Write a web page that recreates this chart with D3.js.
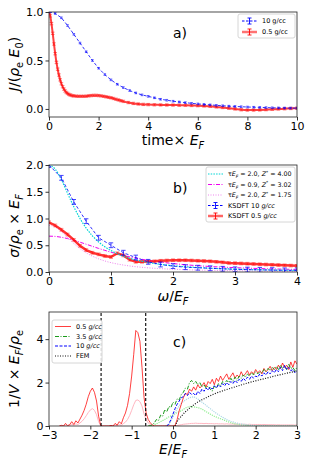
<!DOCTYPE html>
<html>
<head>
<meta charset="utf-8">
<script src="https://cdn.jsdelivr.net/npm/d3@7"></script>
<style>
  body { margin: 0; background: #fff; }
  svg { font-family: "DejaVu Sans", sans-serif; }
</style>
</head>
<body>
<svg id="chart" width="312" height="467"></svg>
<script>
// ---- a) current autocorrelation J(t)
const blueTimeStep = 0.25;
const blueJ = [1.0, 0.985, 0.94, 0.86, 0.77, 0.68, 0.59, 0.50, 0.42, 0.355, 0.30, 0.255, 0.22,
  0.19, 0.165, 0.145, 0.13, 0.115, 0.10, 0.09, 0.08, 0.072, 0.065, 0.058, 0.052, 0.047, 0.042,
  0.037, 0.033, 0.029, 0.026, 0.023, 0.02, 0.018, 0.016, 0.014, 0.012, 0.011, 0.01, 0.009, 0.008];
const redTime = [0, 0.05, 0.1, 0.15, 0.2, 0.25, 0.3, 0.35, 0.4, 0.45, 0.5, 0.55, 0.6, 0.65, 0.7,
  0.75, 0.8, 0.85, 0.9, 0.95, 1.0, 1.1, 1.2, 1.3, 1.4, 1.5, 1.6, 1.7, 1.8, 1.9, 2.0, 2.1, 2.2,
  2.3, 2.4, 2.5, 2.6, 2.7, 2.8, 2.9, 3.0, 3.2, 3.4, 3.6, 3.8, 4.0, 4.25, 4.5, 4.75, 5.0, 5.25,
  5.5, 5.75, 6.0, 6.25, 6.5, 6.75, 7.0, 7.25, 7.5, 7.75, 8.0, 8.25, 8.5, 8.75, 9.0, 9.25, 9.5,
  9.75, 10.0];
const redJ = [1.0, 0.96, 0.88, 0.78, 0.67, 0.57, 0.48, 0.41, 0.35, 0.30, 0.26, 0.23, 0.205, 0.185,
  0.17, 0.16, 0.15, 0.145, 0.14, 0.137, 0.135, 0.132, 0.13, 0.13, 0.13, 0.132, 0.135, 0.138,
  0.14, 0.14, 0.138, 0.135, 0.13, 0.125, 0.12, 0.115, 0.108, 0.1, 0.093, 0.085, 0.078, 0.066,
  0.057, 0.051, 0.047, 0.045, 0.043, 0.042, 0.041, 0.04, 0.039, 0.038, 0.036, 0.034, 0.031,
  0.027, 0.021, 0.015, 0.008, 0.0, -0.008, -0.012, -0.012, -0.01, -0.007, -0.004, -0.001,
  0.002, 0.005, 0.008];

// ---- b) conductivity
const omegaStepBlue = 0.2;
const sigmaBlue = [2.0, 1.76, 1.31, 0.95, 0.64, 0.5, 0.36, 0.27, 0.19, 0.14, 0.11, 0.09, 0.08,
  0.07, 0.06, 0.05, 0.045, 0.04, 0.035, 0.03, 0.03];
const omegaStepRed = 0.1;
const sigmaRed = [0.93, 0.87, 0.79, 0.70, 0.60, 0.49, 0.41, 0.36, 0.33, 0.30, 0.28, 0.35, 0.31,
  0.23, 0.19, 0.19, 0.195, 0.2, 0.21, 0.215, 0.22, 0.22, 0.22, 0.215, 0.21, 0.205, 0.2, 0.19,
  0.18, 0.17, 0.165, 0.16, 0.155, 0.15, 0.145, 0.14, 0.135, 0.13, 0.125, 0.12, 0.115];
const omegaModel = [0, 0.1, 0.2, 0.3, 0.4, 0.5, 0.6, 0.7, 0.8, 0.9, 1.0, 1.25, 1.5, 1.75, 2.0,
  2.5, 3.0, 3.5, 4.0];
const drudeCyan = [2.0, 1.923, 1.724, 1.47, 1.22, 1.0, 0.82, 0.676, 0.562, 0.472, 0.4, 0.276,
  0.2, 0.151, 0.118, 0.077, 0.054, 0.04, 0.031];
const drudeMagenta = [0.67, 0.665, 0.649, 0.624, 0.593, 0.557, 0.519, 0.48, 0.441, 0.405, 0.37,
  0.296, 0.237, 0.193, 0.158, 0.11, 0.081, 0.061, 0.048];
const drudeViolet = [0.875, 0.841, 0.754, 0.643, 0.534, 0.4375, 0.359, 0.296, 0.246, 0.206,
  0.175, 0.121, 0.0875, 0.066, 0.0515, 0.034, 0.0236, 0.0175, 0.0135];

// ---- c) density of states, sampled every dosStep from each start energy
const dosStep = 0.05;
const redStart = -2.75;
const dosRed = [
  0.0, 0.03, 0.0, 0.12, 0.02, 0.06, 0.2, 0.07, 0.24, 0.14, 0.32, 0.5, 0.72, 1.0, 1.35,
  1.6, 1.75, 1.55, 1.15, 0.45, 0.03, 0.0, 0.0, 0.0, 0.0, 0.03, 0.0, 0.12, 0.04, 0.2, 0.1, 0.38, 0.6, 0.95, 1.5,
  2.3, 3.3, 4.4, 4.3, 3.9, 2.7, 1.3, 0.6, 0.3, 0.15, 0.05, 0, 0, 0, 0, 0, 0, 0, 0, 0,
  0, 0.03, 0.3, 0.7, 1.0, 1.3, 1.5, 1.45, 1.7, 1.6, 1.8, 1.65, 1.9, 1.75, 1.85, 2.0, 1.8, 2.05, 1.95, 2.15,
  1.9, 2.2, 2.05, 2.3, 2.1, 2.25, 2.4, 2.15, 2.3, 2.45, 2.2, 2.35, 2.25, 2.5, 2.3, 2.4, 2.55, 2.35, 2.5, 2.4,
  2.6, 2.45, 2.55, 2.4, 2.65, 2.5, 2.6, 2.75, 2.55, 2.7, 2.6, 2.8, 2.65, 2.9, 2.7, 2.8, 2.6, 2.95, 2.7, 3.0, 2.85];
const dosRedPart = [
  0, 0.01, 0, 0.05, 0.01, 0.03, 0.08, 0.04, 0.1, 0.07, 0.14, 0.22, 0.33, 0.47, 0.62,
  0.74, 0.8, 0.72, 0.52, 0.2, 0.01, 0, 0, 0, 0, 0.01, 0, 0.04, 0.02, 0.06, 0.04, 0.11, 0.18, 0.3, 0.48,
  0.72, 0.98, 1.18, 1.2, 1.12, 0.92, 0.55, 0.3, 0.14, 0.07, 0.02, 0, 0, 0, 0, 0, 0, 0, 0, 0,
  0, 0, 0.02, 0.04, 0.06, 0.08, 0.09, 0.1, 0.11, 0.12, 0.12, 0.13, 0.12, 0.12, 0.12, 0.11, 0.12, 0.11, 0.11, 0.11,
  0.1, 0.11, 0.1, 0.1, 0.1, 0.09, 0.1, 0.09, 0.09, 0.09, 0.08, 0.09, 0.08, 0.08, 0.08, 0.08, 0.07, 0.08, 0.07, 0.07,
  0.07, 0.07, 0.07, 0.06, 0.07, 0.06, 0.06, 0.06, 0.06, 0.06, 0.05, 0.06, 0.05, 0.05, 0.05, 0.05, 0.05, 0.05, 0.05, 0.04, 0.05];
const greenStart = -0.6;
const dosGreen = [
  0.0, 0.02, 0.05, 0.15, 0.3, 0.25, 0.5, 0.45, 0.75, 0.65, 0.9, 0.85,
  1.1, 1.0, 1.25, 1.2, 1.45, 1.55, 1.75, 1.7, 2.0, 2.1, 1.95, 2.05, 1.9, 2.0, 1.8, 1.9, 1.75, 1.85, 1.7, 1.6,
  1.85, 1.75, 1.95, 1.85, 2.05, 1.95, 2.1, 2.0, 2.2, 2.05, 2.25, 2.1, 2.3, 2.2, 2.35, 2.25, 2.4, 2.3, 2.45, 2.35,
  2.5, 2.4, 2.5, 2.45, 2.6, 2.5, 2.65, 2.55, 2.7, 2.6, 2.75, 2.6, 2.8, 2.65, 2.75, 2.6, 2.85, 2.65, 2.7, 2.55, 2.7];
const blueStart = -0.15;
const dosBlue = [
  0.0, 0.1, 0.3,
  0.55, 0.8, 1.0, 1.15, 1.3, 1.35, 1.5, 1.4, 1.55, 1.45, 1.5, 1.4, 1.6, 1.5, 1.7, 1.6, 1.75, 1.65, 1.8, 1.7,
  1.85, 1.75, 1.9, 1.8, 1.95, 1.85, 2.0, 1.9, 2.05, 1.95, 2.1, 2.0, 2.15, 2.05, 2.2, 2.1, 2.25, 2.15, 2.3, 2.2,
  2.3, 2.25, 2.4, 2.3, 2.45, 2.35, 2.5, 2.4, 2.55, 2.45, 2.6, 2.5, 2.7, 2.55, 2.8, 2.6, 2.7, 2.55, 2.6, 2.45, 2.55];
// partial (bound-state projected) curves, every 0.1
const partStep = 0.1;
const greenPartStart = -0.6;
const dosGreenPart = [0, 0.02, 0.1, 0.2, 0.3, 0.42, 0.5, 0.62, 0.7, 0.83, 0.9, 0.88, 0.85, 0.78,
  0.66, 0.55, 0.45, 0.37, 0.3, 0.22, 0.15, 0.1, 0.07, 0.05, 0.03, 0.02, 0.01, 0.005, 0.005,
  0, 0, 0, 0, 0, 0, 0, 0];
const bluePartStart = -0.2;
const dosBluePart = [0, 0.05, 0.4, 0.8, 1.05, 1.2, 1.3, 1.35, 1.25, 1.1, 0.95, 0.8, 0.65, 0.52,
  0.4, 0.3, 0.22, 0.16, 0.11, 0.08, 0.05, 0.03, 0.02, 0.01, 0.01, 0, 0, 0, 0, 0, 0, 0, 0];
const femE = [0.05, 0.1, 0.2, 0.3, 0.4, 0.5, 0.6, 0.8, 1.0, 1.25, 1.5, 1.75, 2.0, 2.25, 2.5, 2.75, 3.0];
const femDos = [0, 0.2, 0.45, 0.65, 0.82, 0.97, 1.1, 1.3, 1.48, 1.65, 1.8, 1.95, 2.08, 2.2, 2.32, 2.43, 2.53];
const edgeLines = [-1.74, -0.66];

const svg = d3.select('#chart');
const left = 49, right = 297;

function styleAxis(ax) {
  ax.select('.domain').remove();
  ax.selectAll('.tick line').attr('stroke', '#000').attr('stroke-width', 0.8);
  ax.selectAll('.tick text').attr('fill', '#000').style('font-size', '11px')
    .style('font-family', '"DejaVu Sans", sans-serif');
}

function makePanel(top, bottom, xDomain, yDomain, xTicks, yTicks, yFmt) {
  const x = d3.scaleLinear().domain(xDomain).range([left, right]);
  const y = d3.scaleLinear().domain(yDomain).range([bottom, top]);
  const id = 'clip' + top;
  svg.append('clipPath').attr('id', id).append('rect')
    .attr('x', left).attr('y', top).attr('width', right - left).attr('height', bottom - top);
  const g = svg.append('g');
  const plot = g.append('g').attr('clip-path', `url(#${id})`);
  g.append('g').attr('transform', `translate(0,${bottom})`)
    .call(d3.axisBottom(x).tickValues(xTicks).tickFormat(d3.format('d')).tickSize(3.5).tickPadding(2))
    .call(styleAxis);
  g.append('g').attr('transform', `translate(${left},0)`)
    .call(d3.axisLeft(y).tickValues(yTicks).tickFormat(yFmt).tickSize(3.5).tickPadding(2))
    .call(styleAxis);
  g.append('rect').attr('x', left).attr('y', top).attr('width', right - left)
    .attr('height', bottom - top).attr('fill', 'none').attr('stroke', '#222').attr('stroke-width', 0.8);
  return { g, plot, x, y };
}

// text with italic / sub / super parts: [text, 'n'|'i'|'sub'|'isub'|'sup']
function richText(sel, parts, size) {
  let shift = 0;
  parts.forEach(([t, k]) => {
    const small = k === 'sub' || k === 'isub' || k === 'sup';
    const target = (k === 'sub' || k === 'isub') ? size * 0.3 : k === 'sup' ? -size * 0.4 : 0;
    sel.append('tspan').text(t)
      .attr('dy', target - shift)
      .style('font-size', (small ? size * 0.7 : size) + 'px')
      .style('font-style', (k === 'i' || k === 'isub') ? 'italic' : 'normal');
    shift = target;
  });
}

function seriesLine(plot, pts, x, y, style) {
  const line = d3.line().x(d => x(d[0])).y(d => y(d[1]));
  if (style.curve) line.curve(style.curve);
  plot.append('path').datum(pts).attr('d', line).attr('fill', 'none')
    .attr('stroke', style.color).attr('stroke-width', style.width || 1)
    .attr('stroke-dasharray', style.dash || null).attr('opacity', style.opacity || 1);
}

function errorBars(plot, pts, x, y, err, color, cap, opacity) {
  const eb = plot.append('g').attr('stroke', color).attr('stroke-width', 0.9).attr('opacity', opacity);
  pts.forEach(d => {
    const cx = x(d[0]), y0 = y(d[1] - err), y1 = y(d[1] + err);
    eb.append('line').attr('x1', cx).attr('x2', cx).attr('y1', y0).attr('y2', y1);
    eb.append('line').attr('x1', cx - cap).attr('x2', cx + cap).attr('y1', y0).attr('y2', y0);
    eb.append('line').attr('x1', cx - cap).attr('x2', cx + cap).attr('y1', y1).attr('y2', y1);
  });
}

function legendBox(x0, y0, w, h) {
  svg.append('rect').attr('x', x0).attr('y', y0).attr('width', w).attr('height', h)
    .attr('rx', 2).attr('fill', '#fff').attr('fill-opacity', 0.85)
    .attr('stroke', '#ccc').attr('stroke-width', 0.8);
}

function legendRow(x0, x1, yy, style, label, size, bar) {
  svg.append('line').attr('x1', x0).attr('x2', x1).attr('y1', yy).attr('y2', yy)
    .attr('stroke', style.color).attr('stroke-width', style.width || 1)
    .attr('stroke-dasharray', style.dash || null).attr('opacity', style.opacity || 1);
  if (bar) {
    const cx = (x0 + x1) / 2;
    const e = svg.append('g').attr('stroke', style.color).attr('stroke-width', 0.9);
    e.append('line').attr('x1', cx).attr('x2', cx).attr('y1', yy - bar).attr('y2', yy + bar);
    e.append('line').attr('x1', cx - 2).attr('x2', cx + 2).attr('y1', yy - bar).attr('y2', yy - bar);
    e.append('line').attr('x1', cx - 2).attr('x2', cx + 2).attr('y1', yy + bar).attr('y2', yy + bar);
  }
  const t = svg.append('text').attr('x', x1 + 5).attr('y', yy + size * 0.36).attr('fill', '#000');
  richText(t, label, size);
}

function panelTag(txt, yy) {
  svg.append('text').attr('x', 173).attr('y', yy).style('font-size', '14px').text(txt);
}

function xLabel(parts, yy) {
  const t = svg.append('text').attr('x', 173).attr('y', yy).attr('text-anchor', 'middle');
  richText(t, parts, 14);
}

function yLabel(parts, cy) {
  const t = svg.append('text').attr('text-anchor', 'middle')
    .attr('transform', `translate(19,${cy}) rotate(-90)`);
  richText(t, parts, 14);
}

// ---------------- panel a
{
  const p = makePanel(12, 117, [0, 10], [-0.083, 1.0], [0, 2, 4, 6, 8, 10], [0, 0.5, 1.0], d3.format('.1f'));
  const bluePts = blueJ.map((v, i) => [i * blueTimeStep, v]);
  const redPts = redTime.map((t, i) => [t, redJ[i]]);
  seriesLine(p.plot, redPts, p.x, p.y, { color: '#ff0000', width: 2, opacity: 0.75, curve: d3.curveMonotoneX });
  errorBars(p.plot, redPts, p.x, p.y, 0.012, '#ff0000', 1.8, 0.55);
  seriesLine(p.plot, bluePts, p.x, p.y, { color: '#0000ff', width: 1, dash: '3,2', opacity: 0.8 });
  errorBars(p.plot, bluePts, p.x, p.y, 0.008, '#0000ff', 1.3, 0.7);
  panelTag('a)', 38);
  xLabel([['time', 'n'], ['\u00d7 ', 'n'], ['E', 'i'], ['F', 'isub']], 145);
  yLabel([['J', 'i'], ['/(', 'n'], ['\u03c1', 'i'], ['e', 'sub'], [' ', 'n'], ['E', 'i'], ['0', 'sub'], [')', 'n']], 64);
  legendBox(238, 14, 57, 24);
  legendRow(242, 257, 21, { color: '#0000ff', dash: '2.5,1.5' }, [['10 g/cc', 'n']], 6.5, 3);
  legendRow(242, 257, 32, { color: '#ff0000', width: 2.5, opacity: 0.55 }, [['0.5 g/cc', 'n']], 6.5, 3);
}

// ---------------- panel b
{
  const p = makePanel(165, 272, [0, 4], [0, 2], [0, 1, 2, 3, 4], [0, 0.5, 1, 1.5, 2], d3.format('.1f'));
  const mk = vals => omegaModel.map((w, i) => [w, vals[i]]);
  const bluePts = sigmaBlue.map((v, i) => [i * omegaStepBlue, v]);
  const redPts = sigmaRed.map((v, i) => [i * omegaStepRed, v]);
  seriesLine(p.plot, mk(drudeViolet), p.x, p.y, { color: '#ee82ee', width: 1, dash: '1,1.5', curve: d3.curveMonotoneX });
  seriesLine(p.plot, mk(drudeMagenta), p.x, p.y, { color: '#ee00ee', width: 1, dash: '4,1.5,1,1.5', curve: d3.curveMonotoneX });
  seriesLine(p.plot, redPts, p.x, p.y, { color: '#ff0000', width: 2.5, opacity: 0.8 });
  errorBars(p.plot, redPts, p.x, p.y, 0.025, '#ff0000', 2, 0.5);
  seriesLine(p.plot, mk(drudeCyan), p.x, p.y, { color: '#00d5d5', width: 1.2, dash: '1.5,1.2', curve: d3.curveMonotoneX });
  seriesLine(p.plot, bluePts, p.x, p.y, { color: '#0000ff', width: 1, dash: '3,2', opacity: 0.8 });
  errorBars(p.plot, bluePts, p.x, p.y, 0.045, '#0000ff', 2.2, 0.8);
  panelTag('b)', 193);
  xLabel([['\u03c9', 'i'], ['/', 'n'], ['E', 'i'], ['F', 'isub']], 301);
  yLabel([['\u03c3', 'i'], ['/', 'n'], ['\u03c1', 'i'], ['e', 'sub'], [' \u00d7 ', 'n'], ['E', 'i'], ['F', 'isub']], 226);
  legendBox(206, 167, 89, 55);
  const tau = (a, b) => [['\u03c4', 'n'], ['E', 'i'], ['F', 'isub'], [' = ' + a + ', ', 'n'], ['Z', 'i'], ['*', 'sup'], [' = ' + b, 'n']];
  legendRow(208, 223, 174, { color: '#00d5d5', width: 1.2, dash: '1.5,1.2' }, tau('2.0', '4.00'), 6.3);
  legendRow(208, 223, 184.5, { color: '#ee00ee', dash: '4,1.5,1,1.5' }, tau('0.9', '3.02'), 6.3);
  legendRow(208, 223, 195, { color: '#ee82ee', dash: '1,1.5' }, tau('2.0', '1.75'), 6.3);
  legendRow(208, 223, 205.5, { color: '#0000ff', dash: '2.5,1.5' }, [['KSDFT 10 ', 'n'], ['g/cc', 'i']], 6.5, 3);
  legendRow(208, 223, 216, { color: '#ff0000', width: 2.5, opacity: 0.6 }, [['KSDFT 0.5 ', 'n'], ['g/cc', 'i']], 6.5, 3);
}

// ---------------- panel c
{
  const p = makePanel(312, 426, [-3, 3], [0, 5.25], [-3, -2, -1, 0, 1, 2, 3], [0, 2, 4], d3.format('d'));
  const fromStart = (start, step, vals) => vals.map((v, i) => [start + i * step, v]);
  seriesLine(p.plot, fromStart(redStart, dosStep, dosRedPart), p.x, p.y, { color: '#ffb6c1', width: 1 });
  seriesLine(p.plot, fromStart(greenPartStart, partStep, dosGreenPart), p.x, p.y, { color: '#90ee90', width: 1.2, dash: '1.2,1' });
  seriesLine(p.plot, fromStart(bluePartStart, partStep, dosBluePart), p.x, p.y, { color: '#add8e6', width: 1.2, dash: '1.2,1' });
  seriesLine(p.plot, fromStart(redStart, dosStep, dosRed), p.x, p.y, { color: '#ff0000', width: 1, opacity: 0.75 });
  seriesLine(p.plot, fromStart(greenStart, dosStep, dosGreen), p.x, p.y, { color: '#1a9a1a', width: 1, dash: '4,1.5,1,1.5' });
  seriesLine(p.plot, fromStart(blueStart, dosStep, dosBlue), p.x, p.y, { color: '#0000ff', width: 1, dash: '3,1.5' });
  seriesLine(p.plot, femE.map((e, i) => [e, femDos[i]]), p.x, p.y, { color: '#111', width: 1.2, dash: '1,1.5', curve: d3.curveMonotoneX });
  p.plot.selectAll('.edge').data(edgeLines).enter().append('line')
    .attr('class', 'edge')
    .attr('x1', d => p.x(d)).attr('x2', d => p.x(d))
    .attr('y1', p.y(0)).attr('y2', p.y(5.25))
    .attr('stroke', '#000').attr('stroke-width', 1.1).attr('stroke-dasharray', '3,2');
  panelTag('c)', 347);
  xLabel([['E', 'i'], ['/', 'n'], ['E', 'i'], ['F', 'isub']], 454);
  yLabel([['1/', 'n'], ['V', 'i'], [' \u00d7 ', 'n'], ['E', 'i'], ['F', 'isub'], ['/', 'n'], ['\u03c1', 'i'], ['e', 'sub']], 369);
  legendBox(52, 320, 50, 43);
  legendRow(55, 71, 326.5, { color: '#ff0000', opacity: 0.75 }, [['0.5 ', 'n'], ['g/cc', 'i']], 6.5);
  legendRow(55, 71, 336.5, { color: '#1a9a1a', dash: '4,1.5,1,1.5' }, [['3.5 ', 'n'], ['g/cc', 'i']], 6.5);
  legendRow(55, 71, 346, { color: '#0000ff', dash: '3,1.5' }, [['10 ', 'n'], ['g/cc', 'i']], 6.5);
  legendRow(55, 71, 356, { color: '#111', width: 1.2, dash: '1,1.5' }, [['FEM', 'n']], 6.5);
}
</script>
</body>
</html>
